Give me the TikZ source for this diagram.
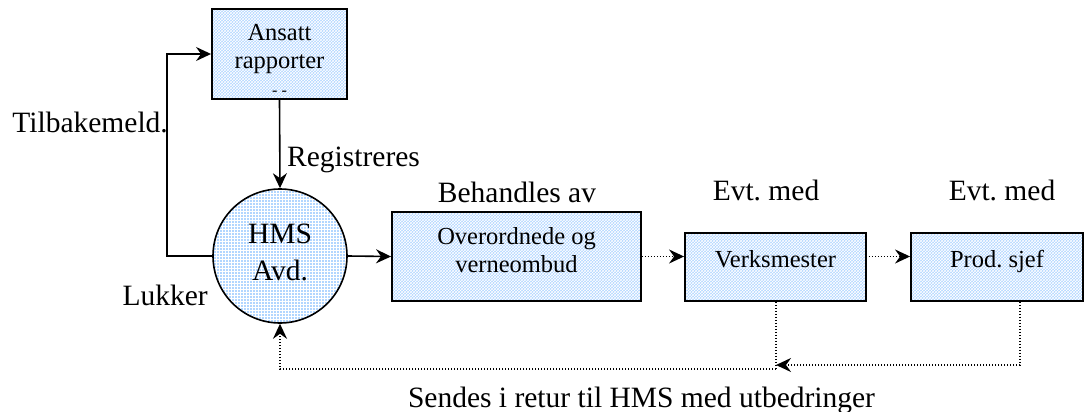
\documentclass[tikz,border=0pt]{standalone}
\usepackage{fontspec}
\setmainfont{Liberation Serif}
\usetikzlibrary{arrows.meta,patterns,calc}

\definecolor{boxblue}{RGB}{178,214,255}
\newcommand\lowpad[1]{\rule[-#1]{0pt}{0pt}}

\tikzset{
  boxfont/.style={font=\fontsize{24.5}{27.5}\selectfont},
  lblfont/.style={font=\fontsize{29.5}{37}\selectfont},
  procbox/.style={draw, line width=1.9pt, preaction={fill=boxblue},
    pattern=crosshatch, pattern color=white, boxfont, align=center, inner sep=2pt},
  hmscircle/.style={circle, draw, line width=1.6pt, preaction={fill=boxblue},
    pattern=grid, pattern color=white, lblfont, align=center, inner sep=0pt,
    minimum size=134pt},
  lbl/.style={lblfont, inner sep=0pt},
  tip/.style={-{Stealth[length=15pt,width=14pt,inset=5pt]}},
  flow/.style={tip, line width=1.6pt},
  dotflow/.style={tip, line width=1.5pt, dash pattern=on 1.5pt off 1.5pt},
  dotline/.style={line width=1.5pt, dash pattern=on 1.5pt off 1.5pt}
}

\begin{document}
\begin{tikzpicture}[x=1pt, y=-1pt]
\useasboundingbox (0,0) rectangle (1084,412);

% process boxes and the HMS office
\node[procbox, minimum width=135pt, minimum height=90pt] (ansatt) at (279.5,54)
  {\rule{0pt}{28pt}Ansatt\\rapporter\\{\fontsize{16}{20}\selectfont- -}};
\node[hmscircle] (hms) at (280,256) {HMS\\Avd.\lowpad{8.5pt}};
\node[procbox, minimum width=249pt, minimum height=89pt] (over) at (516.5,256.5)
  {Overordnede og\\verneombud\lowpad{13pt}};
\node[procbox, minimum width=181pt, minimum height=68pt] (verk) at (775.5,267)
  {Verksmester\lowpad{16.7pt}};
\node[procbox, minimum width=172pt, minimum height=68pt] (prod) at (997,267)
  {Prod.\ sjef\lowpad{16.7pt}};

% labels
\node[lbl, anchor=base east] (ltilb) at (168,132) {Tilbakemeld.};
\node[lbl, anchor=base west] (lreg) at (287,166) {Registreres};
\node[lbl, anchor=base] (lbeh) at (517,202) {Behandles av};
\node[lbl, anchor=base] (levt1) at (766,200) {Evt.\ med};
\node[lbl, anchor=base] (levt2) at (1002,200) {Evt.\ med};
\node[lbl, anchor=base east] (lluk) at (208,305) {Lukker};
\node[lbl, anchor=base] (lsend) at (641.5,407) {Sendes i retur til HMS med utbedringer};

% helper points for the feedback and return paths
\coordinate (fb) at (167,256);
\coordinate (retjoin) at (776,365);
\coordinate (retlow) at (776,369);

% connectors
\draw[flow] (ansatt.south) -- (hms.north);
\draw[flow] (hms.west) -- (fb) |- (ansatt.west);
\draw[flow] (hms.east) -- (over.west);
\draw[dotflow] (over.east) -- (over.east -| verk.west);
\draw[dotflow] ([xshift=2pt]verk.east |- over.east) -- (prod.west |- over.east);
\draw[dotflow] ([xshift=23pt]prod.south) |- (retjoin);
\draw[dotline] (verk.south -| retlow) -- (retlow);
\draw[dotflow] (retlow) -| (hms.south);
\end{tikzpicture}
\end{document}
